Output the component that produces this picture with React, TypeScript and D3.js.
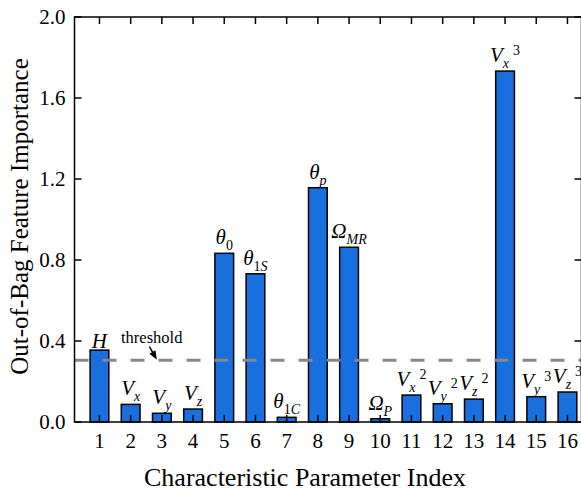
import React, { useEffect, useRef } from 'react';
import * as d3 from 'd3';

// parameter index 1..16 and out-of-bag importance
const indices = [1, 2, 3, 4, 5, 6, 7, 8, 9, 10, 11, 12, 13, 14, 15, 16];
const importance = [0.355, 0.087, 0.043, 0.064, 0.833, 0.732, 0.023, 1.157, 0.863, 0.016, 0.133, 0.09, 0.113, 1.733, 0.125, 0.148];

// bar labels: symbol, subscript, superscript
const labelBase = ['H', 'V', 'V', 'V', 'θ', 'θ', 'θ', 'θ', 'Ω', 'Ω', 'V', 'V', 'V', 'V', 'V', 'V'];
const labelSubNum = ['', '', '', '', '0', '1', '1', '', '', '', '', '', '', '', '', ''];
const labelSub = ['', 'x', 'y', 'z', '', 'S', 'C', 'p', 'MR', 'P', 'x', 'y', 'z', 'x', 'y', 'z'];
const labelSup = ['', '', '', '', '', '', '', '', '', '', '2', '2', '2', '3', '3', '3'];

const yTicks = [0, 0.4, 0.8, 1.2, 1.6, 2.0];
const threshold = 0.305;

const App = () => {
  const svgRef = useRef<SVGSVGElement>(null);

  useEffect(() => {
    const svg = d3.select(svgRef.current);
    svg.selectAll('*').remove();

    const left = 74.5;
    const right = 581.5;
    const top = 17;
    const bottom = 422;
    const font = '"Liberation Serif", "Times New Roman", serif';

    const x = d3.scaleLinear().domain([0.2, 16.45]).range([left, right]);
    const y = d3.scaleLinear().domain([0, 2]).range([bottom, top]);
    const barW = x(0.6) - x(0);

    const g = svg.append('g');

    // bars
    g.selectAll('rect.bar')
      .data(importance)
      .join('rect')
      .attr('class', 'bar')
      .attr('x', (d, i) => x(indices[i]) - barW / 2)
      .attr('width', barW)
      .attr('y', d => y(d))
      .attr('height', d => y(0) - y(d))
      .attr('fill', '#1a6fdf')
      .attr('stroke', '#000')
      .attr('stroke-width', 1.5);

    // bar labels
    const labels = g.selectAll('text.lab')
      .data(importance)
      .join('text')
      .attr('class', 'lab')
      .attr('x', (d, i) => x(indices[i]))
      .attr('y', (d, i) => y(d) - (labelSub[i] || labelSubNum[i] ? 9 : 2))
      .attr('text-anchor', 'middle')
      .attr('font-family', font)
      .attr('font-size', 21)
      .attr('fill', '#000');

    labels.each(function (d, i) {
      const t = d3.select(this);
      t.append('tspan').attr('font-style', 'italic').text(labelBase[i]);
      let dy = 0;
      if (labelSubNum[i]) {
        t.append('tspan').attr('font-size', 14).attr('dy', 6).text(labelSubNum[i]);
        dy = 6;
      }
      if (labelSub[i]) {
        t.append('tspan')
          .attr('font-size', 14)
          .attr('font-style', 'italic')
          .attr('dy', dy === 0 ? 6 : 0)
          .text(labelSub[i]);
      }
      if (labelSup[i]) {
        t.append('tspan')
          .attr('font-size', 14)
          .attr('dx', 4)
          .attr('dy', -13)
          .text(labelSup[i]);
      }
    });

    // threshold line
    g.append('line')
      .attr('x1', left)
      .attr('x2', right)
      .attr('y1', y(threshold))
      .attr('y2', y(threshold))
      .attr('stroke', '#888')
      .attr('stroke-width', 3)
      .attr('stroke-dasharray', '14,14');

    g.append('text')
      .attr('x', x(1.69))
      .attr('y', y(0.39))
      .attr('font-family', font)
      .attr('font-size', 16.5)
      .text('threshold');

    // arrow
    const ax1 = x(2.6), ay1 = y(0.372), ax2 = x(2.84), ay2 = y(0.307);
    const ang = Math.atan2(ay2 - ay1, ax2 - ax1);
    const hl = 9, hw = 3.5;
    g.append('line')
      .attr('x1', ax1).attr('y1', ay1)
      .attr('x2', ax2 - Math.cos(ang) * hl * 0.6).attr('y2', ay2 - Math.sin(ang) * hl * 0.6)
      .attr('stroke', '#000')
      .attr('stroke-width', 1.5);
    const bx = ax2 - Math.cos(ang) * hl, by = ay2 - Math.sin(ang) * hl;
    g.append('path')
      .attr('d', `M${ax2},${ay2}L${bx - Math.sin(ang) * hw},${by + Math.cos(ang) * hw}L${bx + Math.sin(ang) * hw},${by - Math.cos(ang) * hw}Z`)
      .attr('fill', '#000');

    // frame
    const axis = g.append('g').attr('stroke', '#000').attr('stroke-width', 1.5);
    axis.append('rect')
      .attr('x', left).attr('y', top)
      .attr('width', right - left).attr('height', bottom - top)
      .attr('fill', 'none');

    // ticks (inward)
    const tl = 7;
    indices.forEach(v => {
      axis.append('line').attr('x1', x(v)).attr('x2', x(v)).attr('y1', bottom).attr('y2', bottom - tl);
      axis.append('line').attr('x1', x(v)).attr('x2', x(v)).attr('y1', top).attr('y2', top + tl);
    });
    yTicks.forEach(v => {
      axis.append('line').attr('x1', left).attr('x2', left + tl).attr('y1', y(v)).attr('y2', y(v));
      axis.append('line').attr('x1', right).attr('x2', right - tl).attr('y1', y(v)).attr('y2', y(v));
    });

    // tick labels
    g.selectAll('text.xt')
      .data(indices)
      .join('text')
      .attr('class', 'xt')
      .attr('x', d => x(d))
      .attr('y', bottom + 26)
      .attr('text-anchor', 'middle')
      .attr('font-family', font)
      .attr('font-size', 21)
      .text(d => d);

    g.selectAll('text.yt')
      .data(yTicks)
      .join('text')
      .attr('class', 'yt')
      .attr('x', left - 9)
      .attr('y', d => y(d))
      .attr('dy', '0.34em')
      .attr('text-anchor', 'end')
      .attr('font-family', font)
      .attr('font-size', 21)
      .text(d => d3.format('.1f')(d));

    // axis titles
    g.append('text')
      .attr('x', 305)
      .attr('y', 486)
      .attr('text-anchor', 'middle')
      .attr('font-family', font)
      .attr('font-size', 26)
      .text('Characteristic Parameter Index');

    g.append('text')
      .attr('transform', `translate(28,${(top + bottom) / 2 - 3}) rotate(-90)`)
      .attr('text-anchor', 'middle')
      .attr('font-family', font)
      .attr('font-size', 25)
      .text('Out-of-Bag Feature Importance');
  }, []);

  return (
    <svg
      ref={svgRef}
      width="581"
      height="494"
      style={{ position: 'absolute', left: 0, top: 0, background: '#fff' }}
    />
  );
};

export default App;
